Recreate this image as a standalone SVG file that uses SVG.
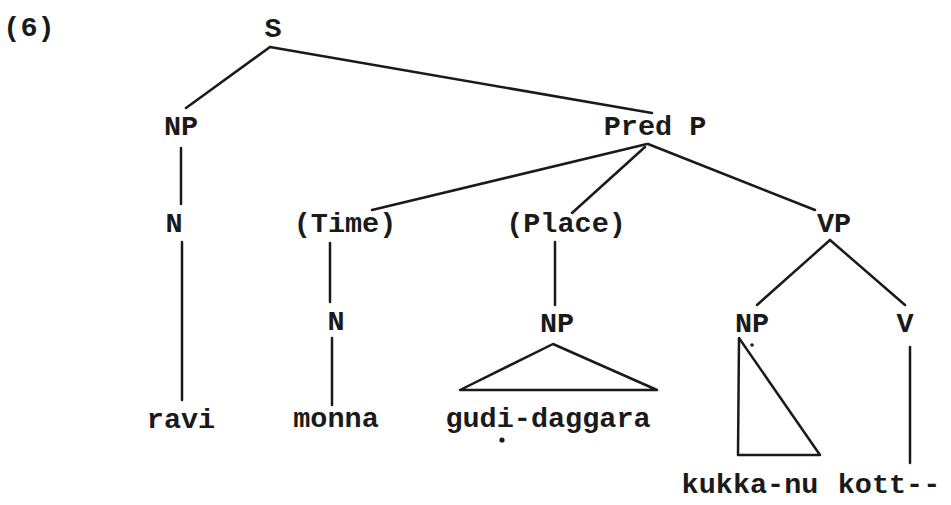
<svg xmlns="http://www.w3.org/2000/svg" width="951" height="505" viewBox="0 0 951 505">
<style>
text{font-family:"Liberation Mono","Courier New",monospace;font-size:28.5px;fill:#1a1a1a;text-anchor:middle;font-weight:bold}
.e line,.e polygon{stroke:#1a1a1a;stroke-width:2.5;fill:none;stroke-linecap:round;stroke-linejoin:round}
</style>
<rect width="951" height="505" fill="#fff"/>
<text x="29" y="36">(6)</text>
<g class="e" id="edges">
<line x1="270" y1="47" x2="186" y2="108"/>
<line x1="270" y1="47" x2="652" y2="113"/>
<line x1="181" y1="148" x2="181" y2="204"/>
<line x1="182" y1="242" x2="182" y2="400"/>
<line x1="647" y1="144" x2="372" y2="210"/>
<line x1="645" y1="147" x2="572" y2="213"/>
<line x1="648" y1="144" x2="815" y2="210"/>
<line x1="330" y1="243" x2="330" y2="302"/>
<line x1="332" y1="338" x2="332" y2="405"/>
<line x1="555" y1="242" x2="555" y2="305"/>
<polygon points="553,344 460,390 657,390"/>
<line x1="830" y1="240" x2="757" y2="305"/>
<line x1="830" y1="240" x2="905" y2="305"/>
<polygon points="739,338 738,455 820,455"/>
<line x1="910" y1="347" x2="910" y2="463"/>
</g>
<g id="n-S"><text x="273" y="37">S</text></g>
<g id="n-NP1"><text x="181" y="135">NP</text></g>
<g id="n-PredP"><text x="655" y="135">Pred P</text></g>
<g id="n-N1"><text x="174" y="232">N</text></g>
<g id="n-Time"><text x="345" y="232">(Time)</text></g>
<g id="n-Place"><text x="566" y="232">(Place)</text></g>
<g id="n-VP"><text x="834" y="232">VP</text></g>
<g id="n-N2"><text x="336" y="330">N</text></g>
<g id="n-NP2"><text x="557" y="332">NP</text></g>
<g id="n-NP3"><text x="752" y="332">NP</text></g>
<g id="n-V"><text x="905" y="332">V</text></g>
<g id="n-ravi"><text x="181" y="428">ravi</text></g>
<g id="n-monna"><text x="336" y="427">monna</text></g>
<g id="n-gudi"><text x="548" y="427">gudi-daggara</text><circle cx="502" cy="440" r="2.6" fill="#1a1a1a"/></g>
<g id="n-kukka"><text x="750" y="493">kukka-nu</text><circle cx="752" cy="345" r="1.8" fill="#1a1a1a"/></g>
<g id="n-kott"><text x="889" y="493">kott--</text></g>
</svg>
